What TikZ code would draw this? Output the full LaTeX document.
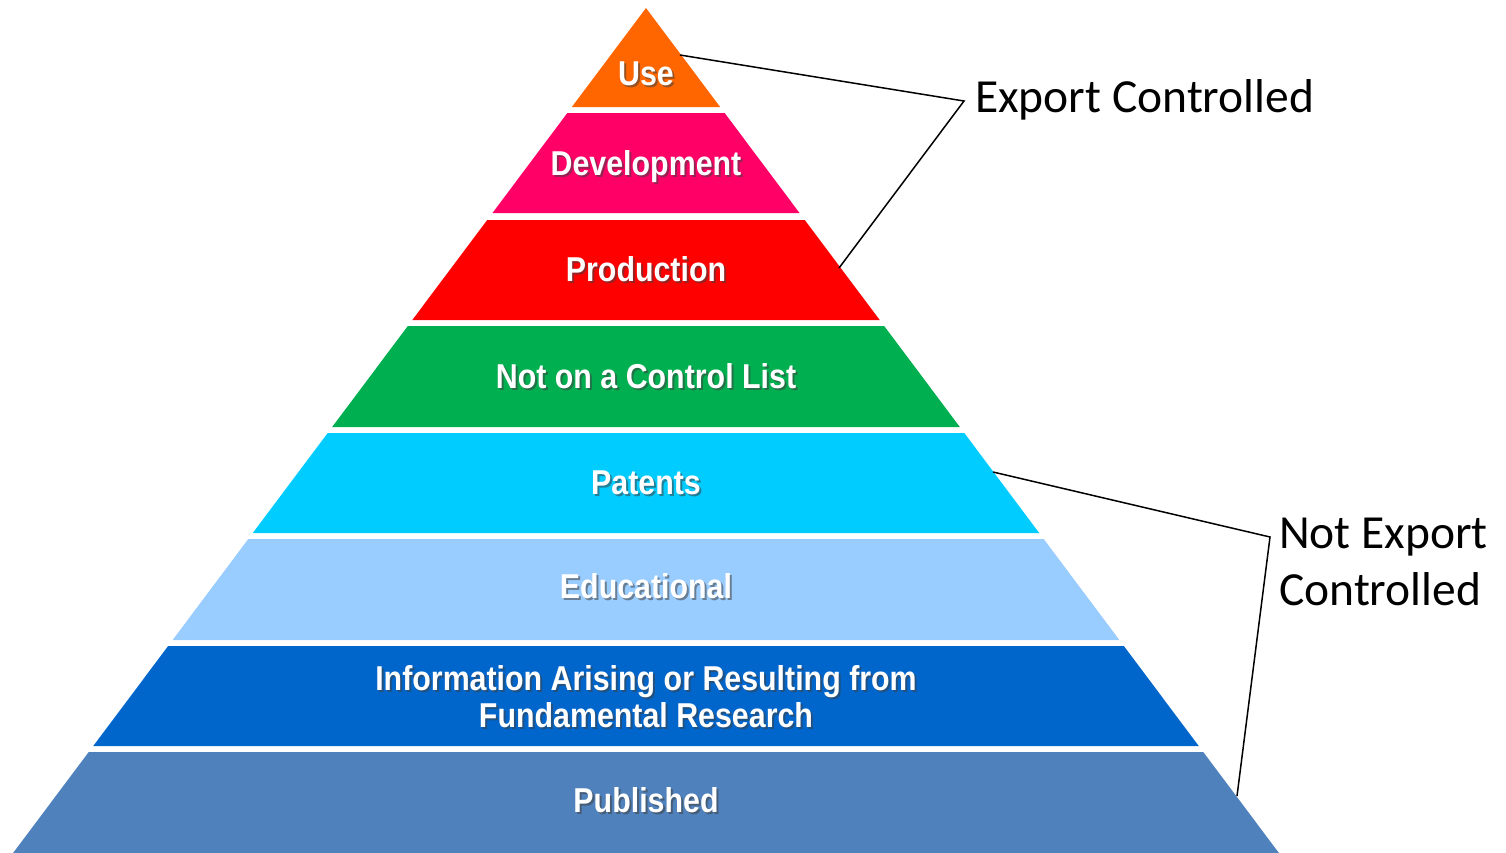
\documentclass[tikz,border=0pt]{standalone}
\usepackage{fontspec}
\newfontfamily\pyrfont[FakeStretch=0.88]{Liberation Sans}
\newfontfamily\calfont{Carlito}
\definecolor{cUse}{HTML}{FF6600}
\definecolor{cDev}{HTML}{FF0066}
\definecolor{cProd}{HTML}{FF0000}
\definecolor{cNot}{HTML}{00B050}
\definecolor{cPat}{HTML}{00CCFF}
\definecolor{cEdu}{HTML}{99CCFF}
\definecolor{cInfo}{HTML}{0066CC}
\definecolor{cPub}{HTML}{4F81BD}
\tikzset{
  lbl/.style={text=white, font=\pyrfont\bfseries\fontsize{34.5}{37}\selectfont, inner sep=0pt, anchor=base, align=center},
  lblsh/.style={lbl, text=black!75, opacity=0.55},
  side/.style={text=black, font=\calfont\fontsize{47.5}{57}\selectfont, inner sep=0pt, anchor=base west, align=left},
  callout/.style={draw=black, line width=1.5pt}
}
\newcommand\plabel[3]{%
  \node[lblsh] (#2-sh) at ([shift={(2,2)}]#1) {#3};
  \node[lbl] (#2) at (#1) {#3};}
\begin{document}
\begin{tikzpicture}[x=1pt,y=-1pt]
\useasboundingbox (0,0) rectangle (1506,852);
\foreach \t/\b/\c in {8/107/cUse, 113/213/cDev, 220/320/cProd, 326/427/cNot, 433/533/cPat, 539/640/cEdu, 646/746/cInfo, 752/853/cPub} {
  \pgfmathsetmacro\wt{(\t-8)*0.749}
  \pgfmathsetmacro\wb{(\b-8)*0.749}
  \fill[\c] (646-\wt,\t) -- (646+\wt,\t) -- (646+\wb,\b) -- (646-\wb,\b) -- cycle;
}
\plabel{646,85}{use}{Use}
\plabel{646,175}{dev}{Development}
\plabel{646,281.5}{prod}{Production}
\plabel{646,388}{notlist}{Not on a Control List}
\plabel{646,494.5}{pat}{Patents}
\plabel{646,598}{edu}{Educational}
\plabel{646,727}{info}{Information Arising or Resulting from\\Fundamental Research}
\plabel{646,812}{pub}{Published}

\node[side] (exp) at (975,112) {Export Controlled};
\node[side] (nexp) at (1279,605) {Not Export\\Controlled};

\coordinate (e1) at (680,55);
\coordinate (e2) at (964,101);
\coordinate (e3) at (839,268);
\draw[callout] (e1) -- (e2) -- (e3);
\coordinate (n1) at (993,472);
\coordinate (n2) at (1270,537);
\coordinate (n3) at (1237,796);
\draw[callout] (n1) -- (n2) -- (n3);
\end{tikzpicture}
\end{document}
